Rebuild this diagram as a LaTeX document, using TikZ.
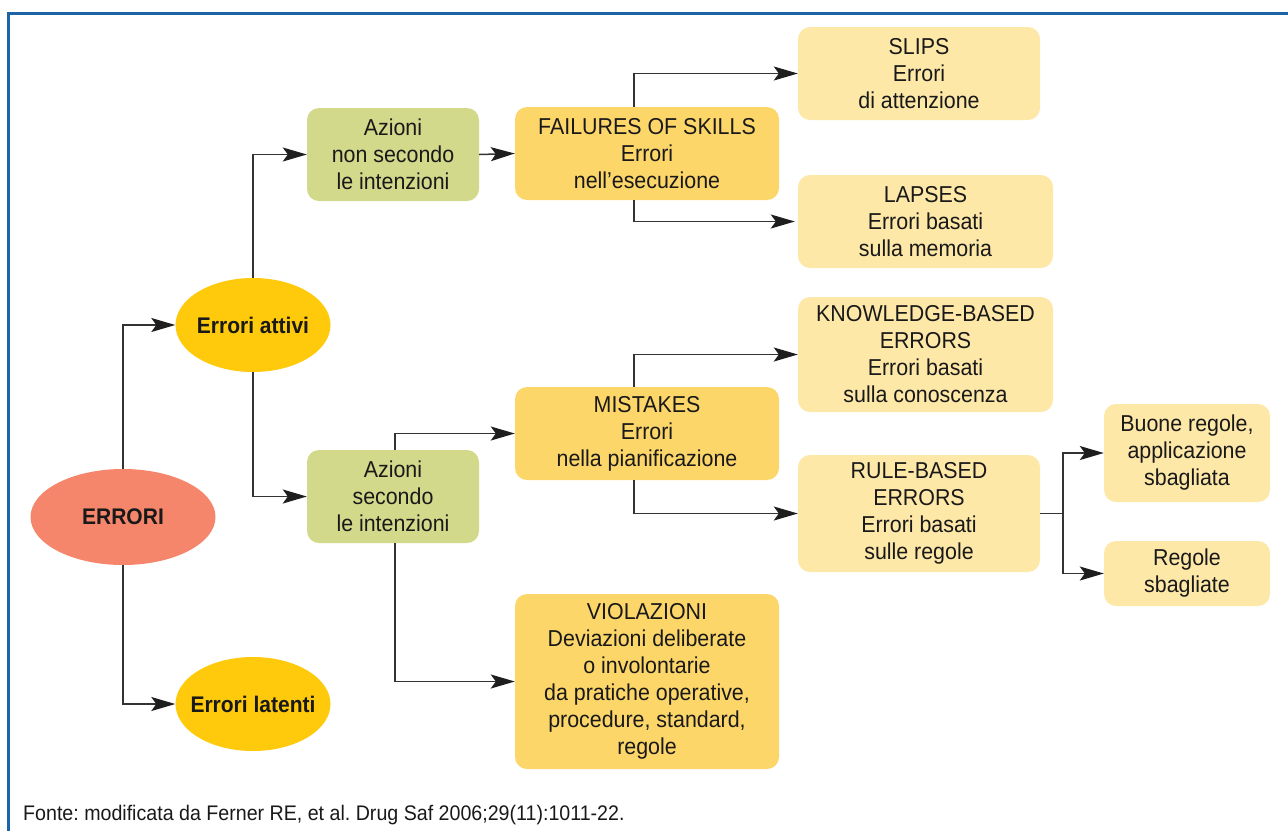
\documentclass[tikz,border=0pt]{standalone}
\usepackage{fontspec}
\setmainfont{Liberation Sans}[FakeStretch=0.93]
\usetikzlibrary{shapes.geometric,arrows.meta}
\definecolor{salmon}{HTML}{F5866B}
\definecolor{gold}{HTML}{FFC90C}
\definecolor{mygreen}{HTML}{D3D98A}
\definecolor{midy}{HTML}{FDD669}
\definecolor{lighty}{HTML}{FEE8A8}
\definecolor{blueline}{HTML}{1C64A6}
\definecolor{linec}{HTML}{333333}
\definecolor{tipc}{HTML}{1E1E1E}
\frenchspacing
\begin{document}
\begin{tikzpicture}[x=1pt,y=-1pt,
  txt/.style={font=\fontsize{23}{27}\selectfont, text=black!90, align=center, inner sep=0pt},
  ell/.style={ellipse, txt, font=\fontsize{22.6}{27}\selectfont\bfseries, inner xsep=-15pt, inner ysep=0pt},
  box/.style={txt, rounded corners=12pt},
  arr/.style={draw=linec, line width=1.5pt, -{Stealth[length=24pt,width=14pt,inset=5pt,color=tipc]}},
  ln/.style={draw=linec, line width=1.5pt}]
\useasboundingbox (0,0) rectangle (1288,831);
\draw[blueline, line width=3pt] (8,831) -- (8,13) -- (1288,13);

% ellipses
\node[ell, fill=salmon, minimum width=185, minimum height=96] (err) at (123,517) {ERRORI};
\node[ell, fill=gold, minimum width=155, minimum height=94] (act) at (253,325) {Errori attivi};
\node[ell, fill=gold, minimum width=155, minimum height=94] (lat) at (253,704) {Errori latenti};

% green boxes
\node[box, fill=mygreen, minimum width=172, minimum height=93] (azn) at (393,154.5) {Azioni\\non secondo\\le intenzioni};
\node[box, fill=mygreen, minimum width=172, minimum height=93] (azs) at (393,496.5) {Azioni\\secondo\\le intenzioni};

% mid yellow boxes
\node[box, fill=midy, minimum width=264, minimum height=93] (fos) at (647,153.5) {FAILURES OF SKILLS\\Errori\\nell’esecuzione};
\node[box, fill=midy, minimum width=264, minimum height=93] (mis) at (647,433.5) {MISTAKES\\Errori\\nella pianificazione};
\node[box, fill=midy, minimum width=264, minimum height=175] (vio) at (647,681.5) {VIOLAZIONI\\Deviazioni deliberate\\o involontarie\\da pratiche operative,\\procedure, standard,\\regole};

% light boxes
\node[box, fill=lighty, minimum width=242, minimum height=93] (slips) at (919,73.5) {SLIPS\\Errori\\di attenzione};
\node[box, fill=lighty, minimum width=255, minimum height=93] (lapses) at (925.5,221.5) {LAPSES\\Errori basati\\sulla memoria};
\node[box, fill=lighty, minimum width=255, minimum height=115] (know) at (925.5,354.5) {KNOWLEDGE-BASED\\ERRORS\\Errori basati\\sulla conoscenza};
\node[box, fill=lighty, minimum width=242, minimum height=117] (rule) at (919,513.5) {RULE-BASED\\ERRORS\\Errori basati\\sulle regole};
\node[box, fill=lighty, minimum width=166, minimum height=98] (buone) at (1187,453) {Buone regole,\\applicazione\\sbagliata};
\node[box, fill=lighty, minimum width=166, minimum height=65] (regole) at (1187,573.5) {Regole\\sbagliate};

% connectors
\draw[arr] (err.north) |- (act.west);
\draw[arr] (err.south) |- (lat.west);
\draw[arr] (act.north) |- (azn.west);
\draw[arr] (act.south) |- (azs.west);
\draw[arr] (azn.east) -- (fos.west);
\draw[arr] ([xshift=-13pt]fos.north) |- (slips.west);
\draw[arr] ([xshift=-13pt]fos.south) |- ([xshift=-3pt]lapses.west);
\draw[arr] ([xshift=2pt]azs.north) |- (mis.west);
\draw[arr] ([xshift=2pt]azs.south) |- (vio.west);
\draw[arr] ([xshift=-13pt]mis.north) |- (know.west);
\draw[arr] ([xshift=-13pt]mis.south) |- (rule.west);
\coordinate (split) at (1063,513.5);
\draw[ln] (rule.east) -- (split);
\draw[arr] (split) |- (buone.west);
\draw[arr] (split) |- (regole.west);

% source
\node[txt, font=\fontsize{21.1}{24}\selectfont, anchor=west] (src) at (23,815) {Fonte: modificata da Ferner RE, et al. Drug Saf 2006;29(11):1011-22.};
\end{tikzpicture}
\end{document}
